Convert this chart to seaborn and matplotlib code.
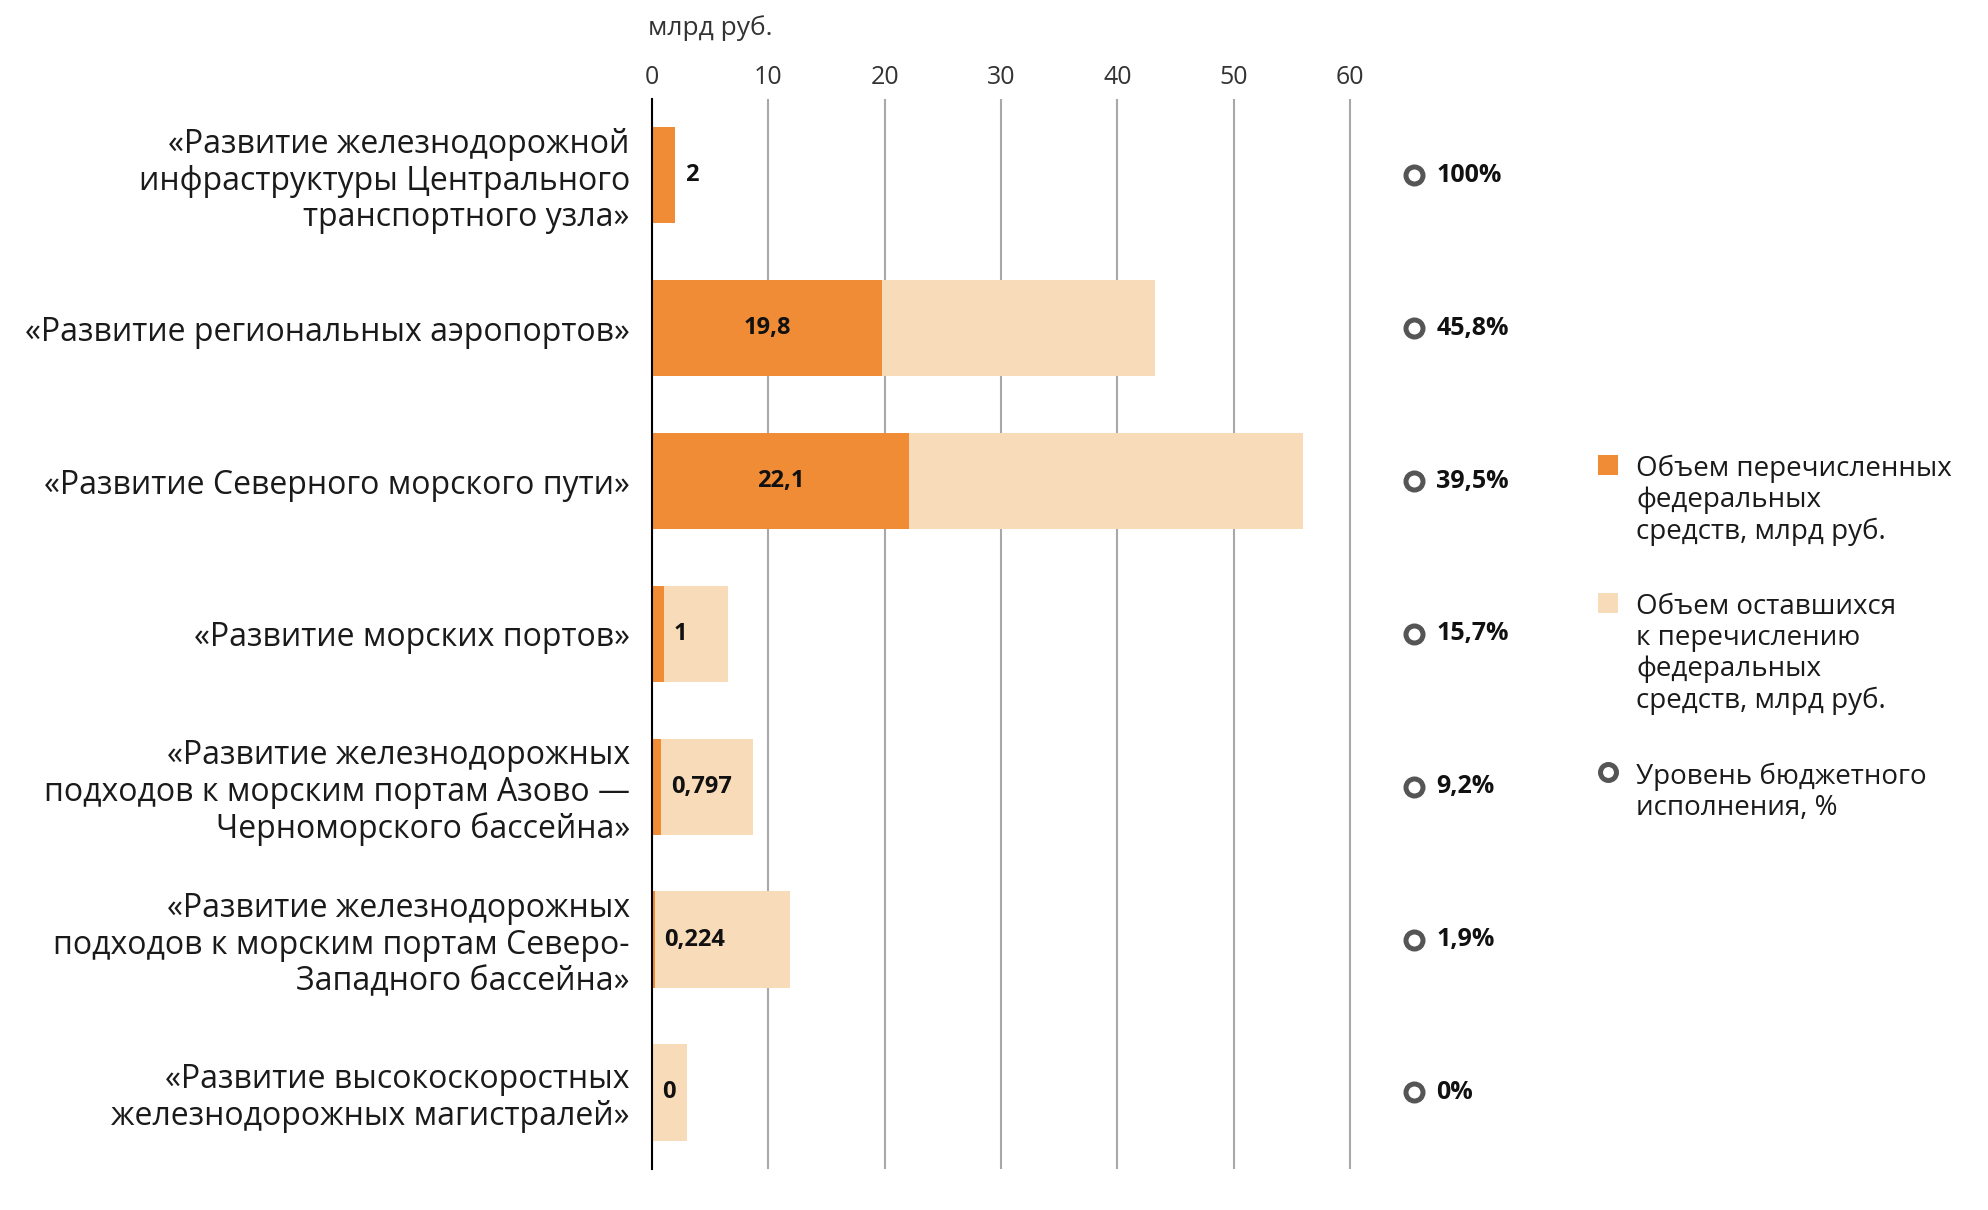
import matplotlib
matplotlib.use("Agg")
import matplotlib.pyplot as plt
import seaborn as sns
import pandas as pd
from matplotlib.patches import Patch
from matplotlib.lines import Line2D

# данные
categories = [
    "«Развитие железнодорожной\nинфраструктуры Центрального\nтранспортного узла»",
    "«Развитие региональных аэропортов»",
    "«Развитие Северного морского пути»",
    "«Развитие морских портов»",
    "«Развитие железнодорожных\nподходов к морским портам Азово —\nЧерноморского бассейна»",
    "«Развитие железнодорожных\nподходов к морским портам Северо-\nЗападного бассейна»",
    "«Развитие высокоскоростных\nжелезнодорожных магистралей»",
]
allocated = [2, 19.8, 22.1, 1, 0.797, 0.224, 0]
remaining = [0, 23.4, 33.9, 5.5, 7.9, 11.6, 3.0]
allocated_labels = ["2", "19,8", "22,1", "1", "0,797", "0,224", "0"]
pct_labels = ["100%", "45,8%", "39,5%", "15,7%", "9,2%", "1,9%", "0%"]
x_ticks = [0, 10, 20, 30, 40, 50, 60]

legend_labels = [
    "Объем перечисленных\nфедеральных\nсредств, млрд руб.",
    "Объем оставшихся\nк перечислению\nфедеральных\nсредств, млрд руб.",
    "Уровень бюджетного\nисполнения, %",
]

ORANGE = "#F08B36"
LIGHT = "#F8DBB9"
CIRCLE = "#555555"
GRID = "#A8A8A8"

df = pd.DataFrame({
    "project": categories,
    "allocated": allocated,
    "total": [a + r for a, r in zip(allocated, remaining)],
})

sns.set_style("white")
plt.rcParams['font.family'] = ['Open Sans', 'DejaVu Sans']

fig = plt.figure(figsize=(19.88, 12.10), dpi=100)
ax = fig.add_axes([0.328, 0.034, 0.354, 0.8843])

sns.barplot(data=df, x="total", y="project", color=LIGHT, saturation=1,
            width=0.63, linewidth=0, ax=ax)
sns.barplot(data=df, x="allocated", y="project", color=ORANGE, saturation=1,
            width=0.63, linewidth=0, ax=ax)

ax.set_xlim(0, 60.5)
ax.set_ylim(len(categories) - 0.5, -0.5)
ax.set_xticks(x_ticks)
ax.xaxis.tick_top()
ax.tick_params(axis='x', length=0, pad=6.5, labelsize=18, labelcolor="#333333")
ax.tick_params(axis='y', length=0, pad=16, labelsize=23, labelcolor="#1a1a1a")
for t in ax.get_yticklabels():
    t.set_multialignment('right')
    t.set_linespacing(1.15)
ax.set_xlabel("")
ax.set_ylabel("")
ax.grid(axis='x', color=GRID, lw=1.5)
ax.set_axisbelow(True)
for s in ["top", "right", "bottom"]:
    ax.spines[s].set_visible(False)
ax.spines["left"].set_color("black")
ax.spines["left"].set_linewidth(1.5)

# подписи значений
for i, v in enumerate(allocated):
    if v > 10:
        ax.text(v / 2, i, allocated_labels[i], ha='center', va='center',
                fontsize=17, fontweight='bold', color="#111111")
    else:
        ax.annotate(allocated_labels[i], xy=(v, i), xytext=(7, 0),
                    textcoords='offset points', ha='left', va='center',
                    fontsize=17, fontweight='bold', color="#111111")

fig.text(0.326, 1 - 28 / 1210, "млрд руб.", fontsize=19, color="#333333",
         ha='left', va='center')

# уровень исполнения
ax_p = fig.add_axes([1414 / 1988, 0.034, 0.1, 0.8843], sharey=ax)
ax_p.set_xlim(0, 1)
sns.scatterplot(x=[0] * len(pct_labels), y=list(range(len(pct_labels))),
                ax=ax_p, s=150, facecolor="white", edgecolor=CIRCLE,
                linewidth=3.6, clip_on=False, zorder=3)
for i, lab in enumerate(pct_labels):
    ax_p.annotate(lab, xy=(0, i), xytext=(16, 0), textcoords='offset points',
                  ha='left', va='center', fontsize=18, fontweight='bold',
                  color="#111111")
ax_p.axis('off')
ax_p.set_ylim(len(categories) - 0.5, -0.5)

# легенда
handles = [
    Patch(facecolor=ORANGE, edgecolor='none'),
    Patch(facecolor=LIGHT, edgecolor='none'),
    Line2D([], [], marker='o', ls='none', markersize=11.5,
           markerfacecolor='white', markeredgecolor=CIRCLE, markeredgewidth=3.6),
]
leg = fig.legend(handles, legend_labels, loc='upper left',
                 bbox_to_anchor=(1598 / 1988, 1 - 455 / 1210),
                 frameon=False, fontsize=20, handlelength=0.73,
                 handleheight=0.73, handletextpad=0.64, labelspacing=1.72,
                 borderaxespad=0, borderpad=0)
for t in leg.get_texts():
    t.set_linespacing(1.14)
    t.set_color("#1a1a1a")
for col in leg._legend_handle_box.get_children():
    for row in col.get_children():
        row.align = 'top'

fig.savefig("out.png", dpi=100)
